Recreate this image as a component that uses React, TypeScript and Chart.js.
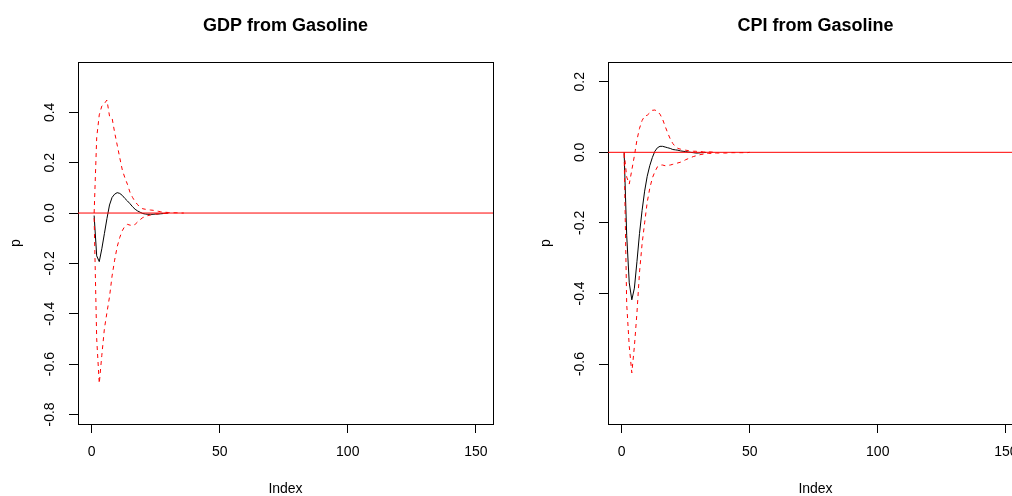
import React, { useEffect, useRef } from "react";
import { Chart, registerables } from "chart.js";

Chart.register(...registerables);

// ---- data ----
const xTickValues = [0, 50, 100, 150];
const gdpTickValues = [-0.8, -0.6, -0.4, -0.2, 0, 0.2, 0.4];
const cpiTickValues = [-0.6, -0.4, -0.2, 0, 0.2];

const gdpIrf = [-0.01, -0.17, -0.193, -0.142, -0.082, -0.022, 0.032, 0.062, 0.075, 0.081, 0.078, 0.07, 0.058, 0.048, 0.037, 0.025, 0.015, 0.008, 0.003, -0.002, -0.004, -0.005, -0.005, -0.005, -0.004, -0.004, -0.003, -0.002, -0.001, 0];
const gdpUpper = [0, 0.3, 0.39, 0.425, 0.435, 0.449, 0.385, 0.378, 0.32, 0.27, 0.22, 0.171, 0.14, 0.114, 0.082, 0.062, 0.045, 0.033, 0.022, 0.017, 0.015, 0.013, 0.012, 0.011, 0.009, 0.007, 0.005, 0.004, 0.003, 0.002, 0.002, 0.001, 0.001, 0.001, 0, 0];
const gdpLower = [-0.02, -0.5, -0.677, -0.565, -0.46, -0.395, -0.333, -0.25, -0.187, -0.134, -0.097, -0.07, -0.052, -0.045, -0.048, -0.05, -0.045, -0.035, -0.026, -0.018, -0.014, -0.01, -0.008, -0.006, -0.004, -0.003, -0.002, -0.002, -0.001, 0];

const cpiIrf = [0, -0.235, -0.37, -0.418, -0.385, -0.31, -0.23, -0.165, -0.11, -0.068, -0.038, -0.015, 0.003, 0.013, 0.017, 0.017, 0.015, 0.013, 0.011, 0.008, 0.007, 0.006, 0.004, 0.003, 0.002, 0.001, 0, -0.001, -0.002, -0.002, -0.001, -0.001, 0];
const cpiUpper = [0, -0.07, -0.09, -0.05, -0.01, 0.035, 0.068, 0.09, 0.103, 0.105, 0.112, 0.119, 0.12, 0.116, 0.108, 0.094, 0.074, 0.055, 0.038, 0.025, 0.016, 0.011, 0.009, 0.007, 0.006, 0.005, 0.004, 0.003, 0.003, 0.002, 0.002, 0.001, 0.001, 0.001, 0.001, 0];
const cpiLower = [-0.005, -0.43, -0.55, -0.625, -0.55, -0.455, -0.34, -0.26, -0.2, -0.142, -0.102, -0.073, -0.055, -0.041, -0.036, -0.036, -0.038, -0.037, -0.036, -0.034, -0.032, -0.03, -0.028, -0.025, -0.021, -0.018, -0.015, -0.012, -0.01, -0.008, -0.006, -0.005, -0.004, -0.003, -0.003, -0.003, -0.002, -0.002, -0.002, -0.002, -0.002, -0.002, -0.001, -0.001, -0.001, -0.001, -0.001, -0.001, -0.001, 0];

const xMin = -5.3;
const xMax = 156.7;
const zeroLevel = 0;

const FONT = "'Liberation Sans', Arial, sans-serif";

const boxPlugin = {
  id: "rbox",
  beforeDatasetsDraw(chart: any) {
    const { ctx, chartArea } = chart;
    const { left, top, right, bottom } = chartArea;
    ctx.save();
    ctx.strokeStyle = "#000";
    ctx.lineWidth = 1;
    ctx.strokeRect(Math.round(left) + 0.5, Math.round(top) + 0.5, Math.round(right - left), Math.round(bottom - top));
    ctx.restore();
  },
};

type PanelProps = {
  title: string;
  irf: number[];
  upper: number[];
  lower: number[];
  yTicks: number[];
  yMin: number;
  yMax: number;
  left: number;
};

const toPoints = (arr: number[]) => arr.map((v, i) => ({ x: i + 1, y: v }));

function Panel({ title, irf, upper, lower, yTicks, yMin, yMax, left }: PanelProps) {
  const ref = useRef<HTMLCanvasElement | null>(null);
  useEffect(() => {
    if (!ref.current) return;
    const axisGrid = { drawOnChartArea: false, drawTicks: true, tickLength: 9, color: "#000", lineWidth: 1 };
    const axisBorder = { display: true, color: "#000", width: 1 };
    const chart = new Chart(ref.current, {
      type: "line",
      data: {
        datasets: [
          { data: [{ x: xMin, y: zeroLevel }, { x: xMax, y: zeroLevel }], borderColor: "#ff0000", borderWidth: 1, pointRadius: 0 },
          { data: toPoints(lower), borderColor: "#ff0000", borderWidth: 1, borderDash: [4, 4], pointRadius: 0 },
          { data: toPoints(upper), borderColor: "#ff0000", borderWidth: 1, borderDash: [4, 4], pointRadius: 0 },
          { data: toPoints(irf), borderColor: "#000000", borderWidth: 1, pointRadius: 0 },
        ],
      },
      options: {
        responsive: false,
        animation: false,
        events: [],
        layout: { padding: { left: 0, right: 37, top: 0, bottom: 0 } },
        plugins: {
          legend: { display: false },
          tooltip: { enabled: false },
          title: {
            display: true,
            text: title,
            fullSize: false,
            color: "#000",
            font: { family: FONT, size: 18, weight: "bold", lineHeight: 1.2 },
            padding: { top: 15.2, bottom: 25.2 },
          },
        },
        scales: {
          x: {
            type: "linear",
            min: xMin,
            max: xMax,
            afterBuildTicks: (s: any) => {
              s.ticks = xTickValues.map((v) => ({ value: v }));
            },
            afterFit: (s: any) => {
              s.height = 72;
            },
            grid: axisGrid,
            border: axisBorder,
            ticks: {
              color: "#000",
              font: { family: FONT, size: 14, lineHeight: 1.2 },
              padding: 10.6,
              maxRotation: 0,
              autoSkip: false,
              callback: (v: any) => String(v),
            },
            title: { display: true, text: "Index", color: "#000", font: { family: FONT, size: 14, lineHeight: 1 }, padding: { top: 0, bottom: 0 } },
          },
          y: {
            type: "linear",
            min: yMin,
            max: yMax,
            afterBuildTicks: (s: any) => {
              s.ticks = yTicks.map((v) => ({ value: v }));
            },
            afterFit: (s: any) => {
              s.width = 78;
            },
            grid: axisGrid,
            border: axisBorder,
            ticks: {
              color: "#000",
              font: { family: FONT, size: 14, lineHeight: 1.2 },
              padding: 7,
              minRotation: 90,
              maxRotation: 90,
              crossAlign: "center",
              autoSkip: false,
              callback: (v: any) => Number(v).toFixed(1),
            },
            title: { display: true, text: "p", color: "#000", font: { family: FONT, size: 14, lineHeight: 1.2 }, padding: { top: 7.5, bottom: 0 } },
          },
        },
      } as any,
      plugins: [boxPlugin],
    });
    return () => chart.destroy();
  }, []);
  return <canvas ref={ref} width={530} height={496} style={{ position: "absolute", left, top: 0, width: 530, height: 496 }} />;
}

export default function App() {
  return (
    <div style={{ position: "fixed", left: 0, top: 0, width: 1012, height: 496, overflow: "hidden", background: "#fff" }}>
      <Panel title="GDP from Gasoline" irf={gdpIrf} upper={gdpUpper} lower={gdpLower} yTicks={gdpTickValues} yMin={-0.838} yMax={0.6} left={0} />
      <Panel title="CPI from Gasoline" irf={cpiIrf} upper={cpiUpper} lower={cpiLower} yTicks={cpiTickValues} yMin={-0.77} yMax={0.256} left={530} />
    </div>
  );
}
